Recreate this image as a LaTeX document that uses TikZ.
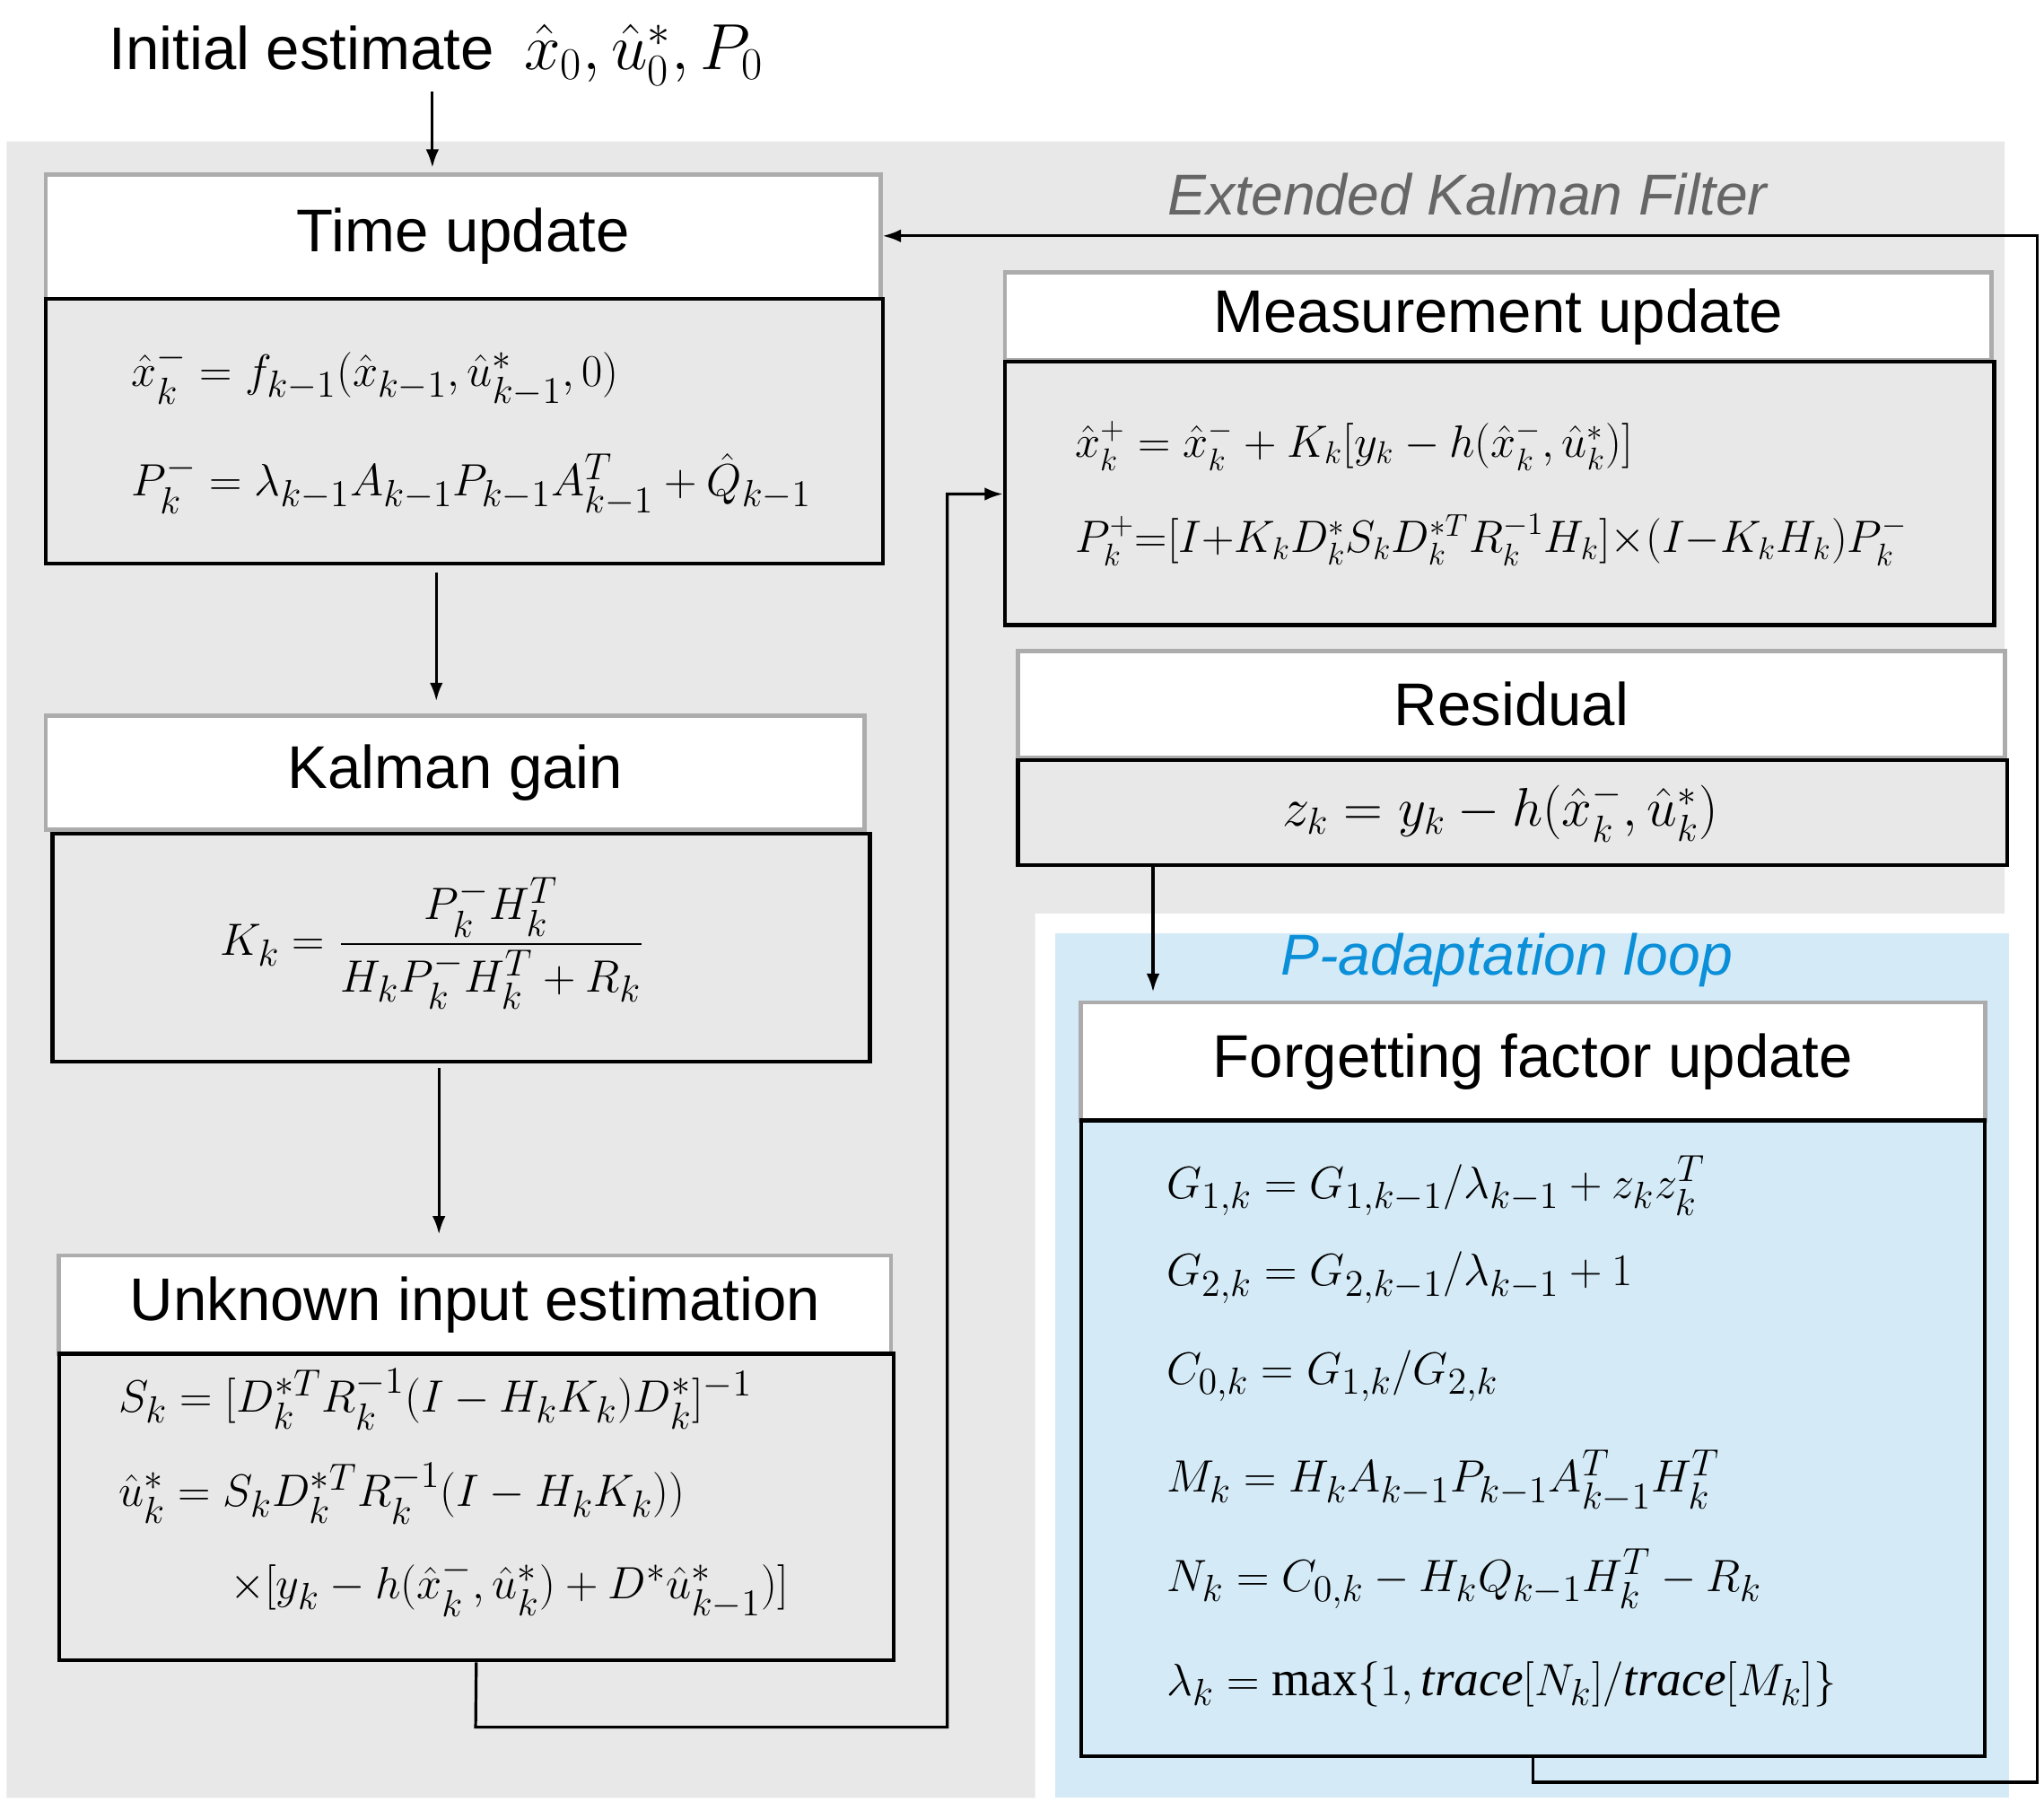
\documentclass[tikz,border=0pt]{standalone}
\usepackage{fontspec}
\setmainfont{Liberation Sans}
\newfontfamily\serif{Liberation Serif}
\usepackage{amsmath}
\usetikzlibrary{arrows.meta}
\definecolor{pblue}{HTML}{D4EAF6}
\definecolor{ptext}{HTML}{0A8FD8}
\newcommand{\tr}{\text{\serif\itshape trace}}
\newcommand{\mx}{\text{\serif max}}
\begin{document}
\begin{tikzpicture}[x=0.5pt,y=-0.5pt,
  hdr/.style={draw=gray!65,line width=1.6pt,fill=white,font=\fontsize{23}{26}\selectfont,inner sep=0pt},
  body/.style={draw=black,line width=1.5pt,fill=gray!18,inner sep=0pt},
  eq/.style={anchor=west,font=\fontsize{19}{22}\selectfont,inner sep=0pt},
  ar/.style={-{Latex[length=7pt,width=5pt]},line width=1.1pt},
  ln/.style={line width=1pt}]
\useasboundingbox (0,0) rectangle (1560,1375);
\fill[white] (0,0) rectangle (1560,1375);
% backgrounds
\fill[gray!18] (5,108) -- (1530,108) -- (1530,697) -- (790,697) -- (790,1372) -- (5,1372) -- cycle;
\fill[pblue] (805,712) rectangle (1533,1372);
\node[font=\fontsize{23}{26}\selectfont] (init) at (333,42) {Initial estimate\enspace$\hat x_0,\hat u_0^*,P_0$};
\node[font=\itshape\fontsize{22}{26}\selectfont,text=gray!80!black] (ekf) at (1120,148) {Extended Kalman Filter};
\node[font=\itshape\fontsize{22}{26}\selectfont,text=ptext] (pal) at (1150,733) {P-adaptation loop};
% boxes
\node[hdr,minimum width=318.5pt,minimum height=47.5pt] (tuh) at (353.5,180.5) {Time update};
\node[body,minimum width=319.5pt,minimum height=101pt] (tub) at (354.5,329) {};
\node[hdr,minimum width=312.5pt,minimum height=43.5pt] (kgh) at (347.5,589.5) {Kalman gain};
\node[body,minimum width=312pt,minimum height=87pt] (kgb) at (352,723) {};
\node[hdr,minimum width=317.5pt,minimum height=37.5pt] (uih) at (362.5,995.5) {Unknown input estimation};
\node[body,minimum width=318.5pt,minimum height=117pt] (uib) at (363.5,1150) {};
\node[hdr,minimum width=376.5pt,minimum height=33.5pt] (muh) at (1143.5,241.5) {Measurement update};
\node[body,minimum width=377.5pt,minimum height=100.5pt] (mub) at (1144.5,376.5) {};
\node[hdr,minimum width=376.5pt,minimum height=40.5pt] (rsh) at (1153.5,537.5) {Residual};
\node[body,minimum width=377.5pt,minimum height=40pt] (rsb) at (1154.5,620) {};
\node[hdr,minimum width=345pt,minimum height=45pt] (ffh) at (1170,810) {Forgetting factor update};
\node[body,fill=pblue,minimum width=345pt,minimum height=242.5pt] (ffb) at (1170,1097.5) {};
% equations
\node[eq] (e1) at (100,287) {$\hat x_k^- = f_{k-1}(\hat x_{k-1},\hat u^*_{k-1},0)$};
\node[eq] (e2) at (100,370) {$P_k^- = \lambda_{k-1}A_{k-1}P_{k-1}A_{k-1}^T+\hat Q_{k-1}$};
\node[font=\fontsize{19}{22}\selectfont] (e3) at (330,720) {$K_k = \dfrac{P_k^- H_k^T}{H_kP_k^-H_k^T+R_k}$};
\node[eq] (e4) at (90,1068) {$S_k = [D_k^{*T}R_k^{-1}(I-H_kK_k)D_k^*]^{-1}$};
\node[eq] (e5) at (90,1140) {$\hat u_k^* = S_kD_k^{*T}R_k^{-1}(I-H_kK_k))$};
\node[eq] (e6) at (175,1212) {$\times[y_k-h(\hat x_k^-,\hat u_k^*)+D^*\hat u^*_{k-1})]$};
\node[eq,font=\fontsize{17}{20}\selectfont] (e7) at (820,340) {$\hat x_k^+ = \hat x_k^- + K_k[y_k-h(\hat x_k^-,\hat u_k^*)]$};
\node[eq,font=\fontsize{17}{20}\selectfont] (e8) at (820,412) {$P_k^+ {=} [I{+}K_kD_k^*S_kD_k^{*T}R_k^{-1}H_k]{\times}(I{-}K_kH_k)P_k^-$};
\node[font=\fontsize{21}{24}\selectfont] (e9) at (1145,620) {$z_k = y_k - h(\hat x_k^-,\hat u_k^*)$};
\node[eq] (f1) at (890,905) {$G_{1,k} = G_{1,k-1}/\lambda_{k-1}+z_kz_k^T$};
\node[eq] (f2) at (890,975) {$G_{2,k} = G_{2,k-1}/\lambda_{k-1}+1$};
\node[eq] (f3) at (890,1050) {$C_{0,k} = G_{1,k}/G_{2,k}$};
\node[eq] (f4) at (890,1130) {$M_k = H_kA_{k-1}P_{k-1}A_{k-1}^TH_k^T$};
\node[eq] (f5) at (890,1205) {$N_k = C_{0,k}-H_kQ_{k-1}H_k^T-R_k$};
\node[eq] (f6) at (890,1285) {$\lambda_k = \mx\{1,\tr[N_k]/\tr[M_k]\}$};
% connectors
\coordinate (c1) at (330,70);
\draw[ar] (c1) -- (330,128);
\draw[ar] (333,437) -- (333,535);
\draw[ar] (335,815) -- (335,942);
\draw[ar] (uib.south) -- (363,1318) -- (723,1318) -- (723,377) -- (mub.west |- 0,377);
\draw[ar] (rsb.south -| 880,0) -- (880,757);
\draw[ar] (ffb.south -| 1170,0) -- (1170,1360) -- (1555,1360) -- (1555,180) -- (tuh.east |- 0,180);
\end{tikzpicture}
\end{document}
